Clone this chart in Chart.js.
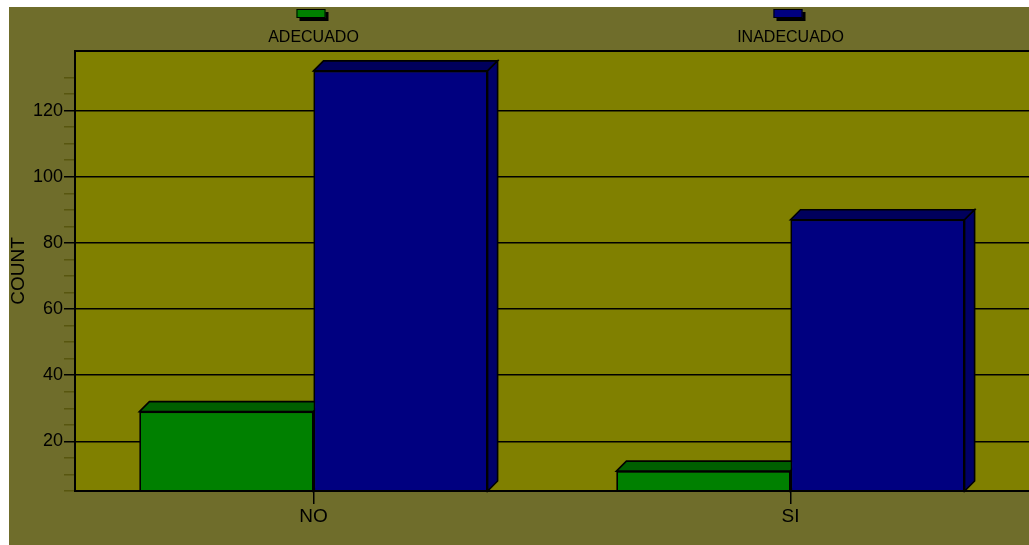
<!DOCTYPE html>
<html>
<head>
<meta charset="utf-8">
<script src="https://cdn.jsdelivr.net/npm/chart.js@4"></script>
<style>
  html, body { margin: 0; padding: 0; background: #ffffff; overflow: hidden; }
  #wrap { position: absolute; left: 9px; top: 7px; width: 1020px; height: 538px; background: #6f6d2b; }
</style>
</head>
<body>
<div id="wrap"><canvas id="chart" width="1020" height="538"></canvas></div>
<script>
// data
const categories = ['NO', 'SI'];
const seriesNames = ['ADECUADO', 'INADECUADO'];
const adecuado = [29, 11];
const inadecuado = [132, 87];
const yMin = 5;
const yMax = 138;
const yTitle = 'COUNT';

const FONT = '"Liberation Sans", Arial, sans-serif';
const DEPTH = 10;

// olive plot background
const plotBg = {
  id: 'plotBg',
  beforeDraw(chart) {
    const a = chart.chartArea;
    chart.ctx.save();
    chart.ctx.fillStyle = '#808000';
    chart.ctx.fillRect(a.left, a.top, a.right - a.left, a.bottom - a.top);
    chart.ctx.restore();
  }
};

// redraw bars left to right with top / side faces so they look like the old 3D ones
const bar3d = {
  id: 'bar3d',
  afterDatasetsDraw(chart) {
    const ctx = chart.ctx;
    const a = chart.chartArea;
    chart.data.datasets.forEach(function (ds, i) {
      const meta = chart.getDatasetMeta(i);
      meta.data.forEach(function (bar) {
        ctx.save();
        ctx.beginPath();
        ctx.rect(a.left, a.top, a.right - a.left, a.bottom - a.top);
        ctx.clip();
        bar.draw(ctx);
        ctx.restore();

        const p = bar.getProps(['x', 'y', 'base', 'width'], true);
        const l = p.x - p.width / 2, r = p.x + p.width / 2;
        const b = Math.min(p.base, a.bottom);
        ctx.save();
        ctx.lineWidth = 1.6;
        ctx.strokeStyle = '#000';
        // top
        ctx.beginPath();
        ctx.moveTo(l, p.y);
        ctx.lineTo(l + DEPTH, p.y - DEPTH);
        ctx.lineTo(r + DEPTH, p.y - DEPTH);
        ctx.lineTo(r, p.y);
        ctx.closePath();
        ctx.fillStyle = ds.topColor;
        ctx.fill();
        ctx.stroke();
        // side
        ctx.beginPath();
        ctx.moveTo(r, p.y);
        ctx.lineTo(r + DEPTH, p.y - DEPTH);
        ctx.lineTo(r + DEPTH, b - DEPTH);
        ctx.lineTo(r, b);
        ctx.closePath();
        ctx.fillStyle = ds.sideColor;
        ctx.fill();
        ctx.stroke();
        ctx.restore();
      });
    });
  }
};

// legend spread evenly over the plot width, swatch above the name
const topLegend = {
  id: 'topLegend',
  afterDraw(chart) {
    const ctx = chart.ctx;
    const area = chart.chartArea;
    const n = chart.data.datasets.length;
    ctx.save();
    chart.data.datasets.forEach(function (ds, i) {
      const cx = area.left + (i + 0.5) * area.width / n;
      const sx = cx - 17, sy = 2, sw = 29, sh = 9;
      ctx.fillStyle = '#000';
      ctx.fillRect(sx + 3, sy + 3, sw, sh);
      ctx.fillStyle = ds.backgroundColor;
      ctx.fillRect(sx, sy, sw, sh);
      ctx.strokeStyle = '#000';
      ctx.lineWidth = 1;
      ctx.strokeRect(sx + 0.5, sy + 0.5, sw - 1, sh - 1);
      ctx.fillStyle = '#000';
      ctx.font = '16px ' + FONT;
      ctx.textAlign = 'center';
      ctx.textBaseline = 'middle';
      ctx.fillText(ds.label, cx, 31);
    });
    ctx.restore();
  }
};

new Chart(document.getElementById('chart'), {
  type: 'bar',
  data: {
    labels: categories,
    datasets: [
      {
        label: seriesNames[0],
        data: adecuado,
        backgroundColor: '#008000',
        topColor: '#005f00',
        sideColor: '#006a00',
        borderColor: '#000',
        borderWidth: 1.6
      },
      {
        label: seriesNames[1],
        data: inadecuado,
        backgroundColor: '#000080',
        topColor: '#00005c',
        sideColor: '#000068',
        borderColor: '#000',
        borderWidth: 1.6
      }
    ]
  },
  options: {
    responsive: false,
    animation: false,
    layout: { padding: { top: 44, left: 0, right: 0, bottom: 0 } },
    datasets: { bar: { categoryPercentage: 0.73, barPercentage: 1 } },
    plugins: {
      legend: { display: false },
      tooltip: { enabled: false }
    },
    scales: {
      x: {
        offset: true,
        afterFit: function (s) { s.height = 54; },
        border: { display: true, color: '#000', width: 2, z: 1 },
        grid: {
          offset: false,
          drawOnChartArea: false,
          color: '#000',
          tickColor: '#000',
          tickLength: 13,
          lineWidth: 1.5
        },
        ticks: {
          color: '#000',
          padding: 1,
          font: { family: FONT, size: 19 }
        }
      },
      y: {
        min: yMin,
        max: yMax,
        afterFit: function (s) { s.width = 66; },
        border: { display: true, color: '#000', width: 2, z: 1 },
        grid: {
          color: function (c) {
            if (!c.tick) return 'rgba(0,0,0,0)';
            const v = c.tick.value;
            return (v % 20 === 0 || v === yMax) ? '#000' : 'rgba(0,0,0,0)';
          },
          tickColor: function (c) {
            if (!c.tick) return 'rgba(0,0,0,0)';
            const v = c.tick.value;
            if (v === yMax) return 'rgba(0,0,0,0)';
            return v % 20 === 0 ? '#000' : '#58560f';
          },
          lineWidth: function (c) {
            return c.tick && c.tick.value === yMax ? 2 : 1.5;
          },
          tickLength: 11
        },
        ticks: {
          stepSize: 5,
          autoSkip: false,
          padding: 1,
          color: '#000',
          font: { family: FONT, size: 18 },
          callback: function (v) { return v % 20 === 0 ? v : ''; }
        },
        title: {
          display: true,
          text: yTitle,
          color: '#000',
          padding: 0,
          font: { family: FONT, size: 19, lineHeight: 1 }
        }
      }
    }
  },
  plugins: [plotBg, bar3d, topLegend]
});
</script>
</body>
</html>
